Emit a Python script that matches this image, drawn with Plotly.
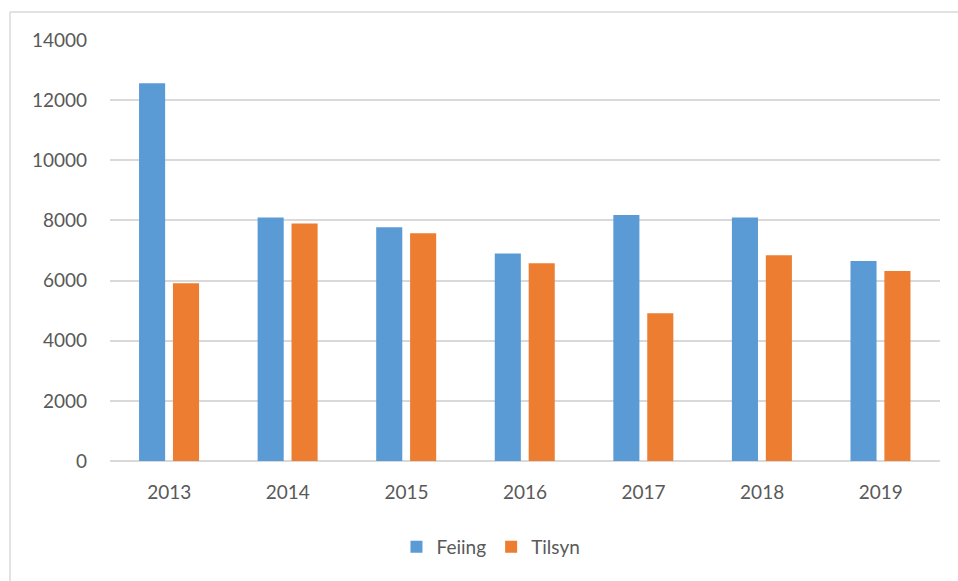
import plotly.graph_objects as go

years = ["2013", "2014", "2015", "2016", "2017", "2018", "2019"]
feiing = [12560, 8100, 7770, 6900, 8180, 8100, 6650]
tilsyn = [5910, 7900, 7570, 6575, 4910, 6840, 6320]
y_ticks = [0, 2000, 4000, 6000, 8000, 10000, 12000, 14000]
y_tick_labels = [str(v) for v in y_ticks]

BLUE = "#5B9BD5"
ORANGE = "#ED7D31"
TXT = "#595959"
GRID = "#D9D9D9"

fig = go.Figure()
fig.add_trace(go.Bar(x=years, y=feiing, name="Feiing", marker_color=BLUE,
                     marker_line_width=0, width=0.22, offset=-0.255))
fig.add_trace(go.Bar(x=years, y=tilsyn, name="Tilsyn", marker_color=ORANGE,
                     marker_line_width=0, width=0.22, offset=0.031))

fig.update_layout(
    width=958, height=581,
    margin=dict(l=110, r=18, t=40, b=120),
    paper_bgcolor="white", plot_bgcolor="white",
    barmode="overlay",
    font=dict(family="Lato, Open Sans, sans-serif", size=19, color=TXT),
    showlegend=True,
    legend=dict(orientation="h", x=0.459, xanchor="center", y=-0.204, yanchor="middle",
                font=dict(size=19, color=TXT), itemwidth=30, traceorder="normal"),
)
fig.update_xaxes(type="category", showgrid=False, showline=False, zeroline=False,
                 ticks="", ticklabelstandoff=18, tickfont=dict(size=19, color=TXT))
fig.update_yaxes(range=[0, 14000], tickvals=y_ticks, ticktext=y_tick_labels,
                 showgrid=True, gridcolor=GRID,
                 gridwidth=1.5, zeroline=True, zerolinecolor=GRID, zerolinewidth=1.5,
                 showline=False, ticks="", ticklabelstandoff=22,
                 tickfont=dict(size=19, color=TXT))

# chart area border (left and top)
fig.add_shape(type="line", xref="paper", yref="paper", x0=-0.1205, x1=-0.1205,
              y0=1.0665, y1=-0.3, line=dict(color=GRID, width=1.5), layer="below")
fig.add_shape(type="line", xref="paper", yref="paper", x0=-0.1205, x1=1.05,
              y0=1.0665, y1=1.0665, line=dict(color=GRID, width=1.5), layer="below")

fig.write_html("out.html", config={"displayModeBar": False},
               post_script="document.body.style.margin='0';")
